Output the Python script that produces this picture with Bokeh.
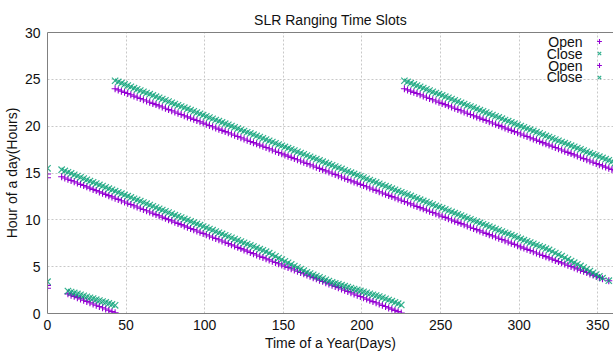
from bokeh.plotting import figure
from bokeh.models import Range1d, FixedTicker, LinearAxis, Legend, LegendItem, Label
from bokeh.embed import file_html
from bokeh.resources import INLINE

# ---------------- data ----------------
x_ticks = [0, 50, 100, 150, 200, 250, 300, 350]
y_ticks = [0, 5, 10, 15, 20, 25, 30]
legend_labels = ["Open", "Close", "Open", "Close"]

# pass 1, first stretch (days 9..225, every 2nd day)
days_a1 = list(range(9, 226, 2))
open_a1 = [14.60, 14.47, 14.33, 14.20, 14.06, 13.93, 13.79, 13.66, 13.52, 13.39,
           13.25, 13.12, 12.98, 12.85, 12.72, 12.58, 12.45, 12.31, 12.18, 12.04,
           11.91, 11.77, 11.64, 11.50, 11.37, 11.24, 11.10, 10.97, 10.83, 10.70,
           10.56, 10.43, 10.29, 10.16, 10.02, 9.89, 9.75, 9.62, 9.49, 9.35,
           9.22, 9.08, 8.95, 8.81, 8.68, 8.54, 8.41, 8.27, 8.14, 8.00,
           7.87, 7.74, 7.60, 7.47, 7.33, 7.20, 7.06, 6.93, 6.79, 6.66,
           6.52, 6.39, 6.25, 6.12, 5.99, 5.85, 5.72, 5.58, 5.45, 5.31,
           5.18, 5.04, 4.91, 4.77, 4.64, 4.51, 4.37, 4.24, 4.10, 3.97,
           3.83, 3.70, 3.56, 3.43, 3.29, 3.16, 3.02, 2.89, 2.76, 2.62,
           2.49, 2.35, 2.22, 2.08, 1.95, 1.81, 1.68, 1.54, 1.41, 1.27,
           1.14, 1.01, 0.87, 0.74, 0.60, 0.47, 0.33, 0.20, 0.06]
close_a1 = [15.35, 15.22, 15.08, 14.95, 14.81, 14.68, 14.54, 14.41, 14.27, 14.14,
            14.00, 13.87, 13.73, 13.60, 13.47, 13.33, 13.20, 13.06, 12.93, 12.79,
            12.66, 12.52, 12.39, 12.25, 12.12, 11.99, 11.85, 11.72, 11.58, 11.45,
            11.31, 11.18, 11.04, 10.91, 10.77, 10.64, 10.50, 10.37, 10.24, 10.10,
            9.97, 9.83, 9.70, 9.56, 9.43, 9.29, 9.16, 9.02, 8.89, 8.75,
            8.62, 8.49, 8.35, 8.22, 8.08, 7.95, 7.81, 7.68, 7.54, 7.41,
            7.27, 7.14, 7.00, 6.87, 6.74, 6.60, 6.44, 6.26, 6.10, 5.92,
            5.76, 5.58, 5.41, 5.24, 5.07, 4.91, 4.73, 4.57, 4.40, 4.27,
            4.13, 4.00, 3.86, 3.73, 3.59, 3.46, 3.32, 3.22, 3.13, 3.02,
            2.92, 2.82, 2.72, 2.61, 2.52, 2.41, 2.31, 2.21, 2.11, 2.00,
            1.91, 1.81, 1.69, 1.57, 1.44, 1.32, 1.18, 1.05, 0.91]

# pass 1, after wrapping past midnight (days 227..361)
days_a2 = list(range(227, 362, 2))
open_a2 = [24.00, 23.87, 23.74, 23.61, 23.48, 23.35, 23.22, 23.08, 22.95, 22.82,
           22.69, 22.56, 22.43, 22.30, 22.17, 22.04, 21.91, 21.78, 21.65, 21.51,
           21.38, 21.25, 21.12, 20.99, 20.86, 20.73, 20.60, 20.47, 20.34, 20.21,
           20.08, 19.95, 19.81, 19.68, 19.55, 19.42, 19.29, 19.16, 19.03, 18.90,
           18.77, 18.64, 18.51, 18.38, 18.24, 18.11, 17.98, 17.85, 17.72, 17.59,
           17.46, 17.33, 17.20, 17.07, 16.94, 16.81, 16.68, 16.54, 16.41, 16.28,
           16.15, 16.02, 15.89, 15.76, 15.63, 15.50, 15.37, 15.24]
close_a2 = [24.85, 24.72, 24.59, 24.46, 24.33, 24.20, 24.07, 23.93, 23.80, 23.67,
            23.54, 23.41, 23.28, 23.15, 23.02, 22.89, 22.76, 22.63, 22.50, 22.36,
            22.23, 22.10, 21.97, 21.84, 21.71, 21.58, 21.45, 21.32, 21.19, 21.06,
            20.93, 20.80, 20.66, 20.53, 20.40, 20.27, 20.14, 20.01, 19.88, 19.75,
            19.62, 19.49, 19.36, 19.23, 19.09, 18.96, 18.83, 18.70, 18.57, 18.44,
            18.31, 18.18, 18.05, 17.92, 17.79, 17.66, 17.53, 17.39, 17.26, 17.13,
            17.00, 16.87, 16.74, 16.61, 16.48, 16.35, 16.22, 16.09]

# pass 2, short early stretch (days 13..43)
days_b1 = list(range(13, 44, 2))
open_b1 = [2.10, 1.96, 1.83, 1.69, 1.56, 1.42, 1.29, 1.15, 1.02, 0.88,
           0.75, 0.61, 0.48, 0.34, 0.20, 0.07]
close_b1 = [2.40, 2.29, 2.20, 2.09, 1.99, 1.89, 1.79, 1.68, 1.59, 1.48,
            1.38, 1.28, 1.18, 1.07, 0.97, 0.87]

# pass 2, long stretch after wrapping (days 43..353)
days_b2 = list(range(43, 354, 2))
open_b2 = [24.00, 23.87, 23.74, 23.61, 23.48, 23.35, 23.21, 23.08, 22.95, 22.82,
           22.69, 22.56, 22.43, 22.30, 22.17, 22.04, 21.91, 21.77, 21.64, 21.51,
           21.38, 21.25, 21.12, 20.99, 20.86, 20.73, 20.60, 20.47, 20.33, 20.20,
           20.07, 19.94, 19.81, 19.68, 19.55, 19.42, 19.29, 19.16, 19.03, 18.89,
           18.76, 18.63, 18.50, 18.37, 18.24, 18.11, 17.98, 17.85, 17.72, 17.59,
           17.46, 17.32, 17.19, 17.06, 16.93, 16.80, 16.67, 16.54, 16.41, 16.28,
           16.15, 16.02, 15.88, 15.75, 15.62, 15.49, 15.36, 15.23, 15.10, 14.97,
           14.84, 14.71, 14.58, 14.44, 14.31, 14.18, 14.05, 13.92, 13.79, 13.66,
           13.53, 13.40, 13.27, 13.14, 13.00, 12.87, 12.74, 12.61, 12.48, 12.35,
           12.22, 12.09, 11.96, 11.83, 11.70, 11.56, 11.43, 11.30, 11.17, 11.04,
           10.91, 10.78, 10.65, 10.52, 10.39, 10.26, 10.12, 9.99, 9.86, 9.73,
           9.60, 9.47, 9.34, 9.21, 9.08, 8.95, 8.82, 8.68, 8.55, 8.42,
           8.29, 8.16, 8.03, 7.90, 7.77, 7.64, 7.51, 7.38, 7.24, 7.11,
           6.98, 6.85, 6.72, 6.59, 6.46, 6.33, 6.20, 6.07, 5.94, 5.80,
           5.67, 5.54, 5.41, 5.28, 5.15, 5.02, 4.89, 4.76, 4.63, 4.50,
           4.37, 4.23, 4.10, 3.97, 3.84, 3.71]
close_b2 = [24.85, 24.72, 24.59, 24.46, 24.33, 24.20, 24.06, 23.93, 23.80, 23.67,
            23.54, 23.41, 23.28, 23.15, 23.02, 22.89, 22.76, 22.62, 22.49, 22.36,
            22.23, 22.10, 21.97, 21.84, 21.71, 21.58, 21.45, 21.32, 21.18, 21.05,
            20.92, 20.79, 20.66, 20.53, 20.40, 20.27, 20.14, 20.01, 19.88, 19.74,
            19.61, 19.48, 19.35, 19.22, 19.09, 18.96, 18.83, 18.70, 18.57, 18.44,
            18.31, 18.17, 18.04, 17.91, 17.78, 17.65, 17.52, 17.39, 17.26, 17.13,
            17.00, 16.87, 16.73, 16.60, 16.47, 16.34, 16.21, 16.08, 15.95, 15.82,
            15.69, 15.56, 15.43, 15.29, 15.16, 15.03, 14.90, 14.77, 14.64, 14.51,
            14.38, 14.25, 14.12, 13.99, 13.85, 13.72, 13.59, 13.46, 13.33, 13.20,
            13.07, 12.94, 12.81, 12.68, 12.55, 12.41, 12.28, 12.15, 12.02, 11.89,
            11.76, 11.63, 11.50, 11.37, 11.24, 11.11, 10.97, 10.84, 10.71, 10.58,
            10.45, 10.32, 10.19, 10.06, 9.93, 9.80, 9.67, 9.53, 9.40, 9.27,
            9.14, 9.01, 8.88, 8.75, 8.62, 8.49, 8.36, 8.23, 8.09, 7.96,
            7.83, 7.70, 7.57, 7.44, 7.31, 7.18, 7.05, 6.92, 6.79, 6.62,
            6.45, 6.29, 6.12, 5.95, 5.77, 5.60, 5.43, 5.26, 5.08, 4.90,
            4.72, 4.53, 4.34, 4.15, 3.96, 3.77]

# isolated points
extra_days_open1 = [0, 0]
extra_open1 = [14.9, 14.5]
extra_days_close1 = [0]
extra_close1 = [15.5]
extra_days_open2 = [0, 0, 357]
extra_open2 = [3.0, 2.7, 3.5]
extra_days_close2 = [0, 357]
extra_close2 = [3.4, 3.5]

# ---------------- figure ----------------
FONT = "Liberation Sans"
PURPLE = "#9400d3"
TEAL = "#009e73"
AXIS_GRAY = "#808080"
TEXT = "#111111"

p = figure(width=613, height=355, output_backend="svg", toolbar_location=None,
           x_range=Range1d(0, 360), y_range=Range1d(0, 30),
           min_border_left=46, min_border_right=0, min_border_top=32,
           min_border_bottom=42, background_fill_color="white",
           border_fill_color="white")
p.outline_line_color = None

p.title.text = "SLR Ranging Time Slots"
p.title.align = "center"
p.title.offset = 4
p.title.text_font = FONT
p.title.text_font_size = "14px"
p.title.text_font_style = "normal"
p.title.text_color = TEXT

for ax, ticks in ((p.xaxis[0], x_ticks), (p.yaxis[0], y_ticks)):
    ax.ticker = FixedTicker(ticks=ticks)
    ax.major_tick_in = 0
    ax.major_tick_out = 0
    ax.minor_tick_in = 0
    ax.minor_tick_out = 0
    ax.axis_line_color = AXIS_GRAY
    ax.major_label_text_font = FONT
    ax.major_label_text_font_size = "14px"
    ax.major_label_text_color = TEXT
    ax.axis_label_text_font = FONT
    ax.axis_label_text_font_size = "14px"
    ax.axis_label_text_font_style = "normal"
    ax.axis_label_text_color = TEXT

p.xaxis.axis_label = "Time of a Year(Days)"
p.yaxis.axis_label = "Hour of a day(Hours)"
p.xaxis.major_label_standoff = 6
p.xaxis.axis_label_standoff = 2
p.yaxis.major_label_standoff = 7
p.yaxis.axis_label_standoff = 2

top_axis = LinearAxis(ticker=FixedTicker(ticks=[]), major_label_text_font_size="0px",
                      major_tick_in=0, major_tick_out=0, minor_tick_in=0,
                      minor_tick_out=0, axis_line_color=AXIS_GRAY)
p.add_layout(top_axis, "above")

p.grid.grid_line_color = "#c8c8c8"
p.grid.grid_line_dash = "2 2"

r_open1 = p.scatter(x=extra_days_open1 + days_a1 + days_a2,
                    y=extra_open1 + open_a1 + open_a2,
                    marker="cross", size=7, line_color=PURPLE, line_width=1.1)
r_close1 = p.scatter(x=extra_days_close1 + days_a1 + days_a2,
                     y=extra_close1 + close_a1 + close_a2,
                     marker="x", size=9, line_color=TEAL, line_alpha=0.8, line_width=1.2)
r_open2 = p.scatter(x=extra_days_open2 + days_b1 + days_b2,
                    y=extra_open2 + open_b1 + open_b2,
                    marker="cross", size=7, line_color=PURPLE, line_width=1.1)
r_close2 = p.scatter(x=extra_days_close2 + days_b1 + days_b2,
                     y=extra_close2 + close_b1 + close_b2,
                     marker="x", size=9, line_color=TEAL, line_alpha=0.8, line_width=1.2)

legend = Legend(items=[LegendItem(label=" ", renderers=[r])
                       for r in (r_open1, r_close1, r_open2, r_close2)],
                location=(546, 230), glyph_width=12, glyph_height=12,
                label_height=12, label_width=0, label_standoff=0, spacing=0,
                padding=0, margin=0, border_line_color=None,
                background_fill_alpha=0, label_text_font_size="1px")
p.add_layout(legend)

for i, t in enumerate(legend_labels):
    p.add_layout(Label(x=535, y=271.3 - 11.67 * i, x_units="screen", y_units="screen",
                       text=t, text_align="right", text_baseline="middle",
                       text_font=FONT, text_font_size="14px", text_color=TEXT))

open("out.html", "w").write(file_html(p, INLINE))
